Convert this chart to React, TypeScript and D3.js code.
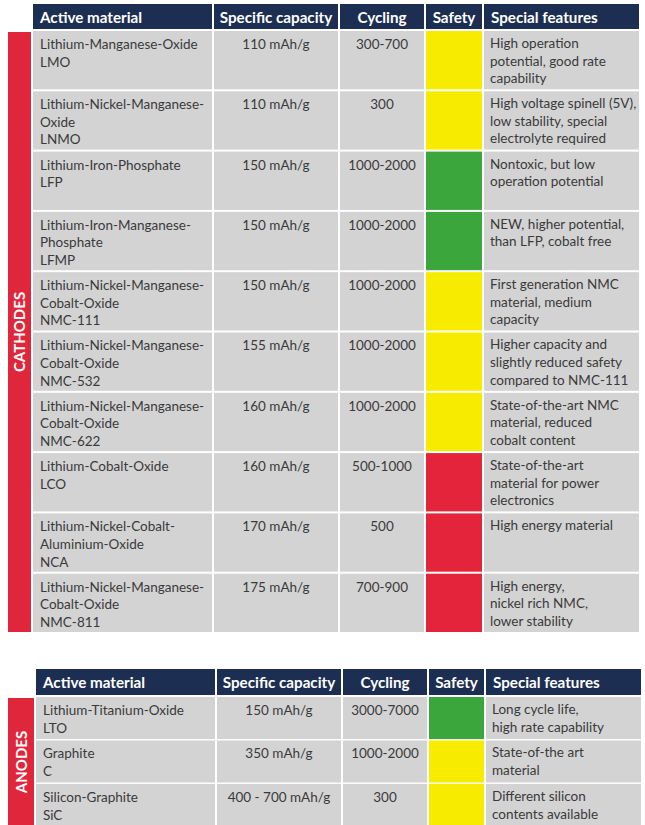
import React from "react";
import * as d3 from "d3";

const headers = ["Active material", "Specific capacity", "Cycling", "Safety", "Special features"];

const cathodeMaterials = [
  ["Lithium-Manganese-Oxide", "LMO"],
  ["Lithium-Nickel-Manganese-", "Oxide", "LNMO"],
  ["Lithium-Iron-Phosphate", "LFP"],
  ["Lithium-Iron-Manganese-", "Phosphate", "LFMP"],
  ["Lithium-Nickel-Manganese-", "Cobalt-Oxide", "NMC-111"],
  ["Lithium-Nickel-Manganese-", "Cobalt-Oxide", "NMC-532"],
  ["Lithium-Nickel-Manganese-", "Cobalt-Oxide", "NMC-622"],
  ["Lithium-Cobalt-Oxide", "LCO"],
  ["Lithium-Nickel-Cobalt-", "Aluminium-Oxide", "NCA"],
  ["Lithium-Nickel-Manganese-", "Cobalt-Oxide", "NMC-811"],
];
const cathodeCapacity = ["110 mAh/g", "110 mAh/g", "150 mAh/g", "150 mAh/g", "150 mAh/g", "155 mAh/g", "160 mAh/g", "160 mAh/g", "170 mAh/g", "175 mAh/g"];
const cathodeCycling = ["300-700", "300", "1000-2000", "1000-2000", "1000-2000", "1000-2000", "1000-2000", "500-1000", "500", "700-900"];
const cathodeSafety = ["medium", "medium", "high", "high", "medium", "medium", "medium", "low", "low", "low"];
const cathodeFeatures = [
  ["High operation", "potential, good rate", "capability"],
  ["High voltage spinell (5V),", "low stability, special", "electrolyte required"],
  ["Nontoxic, but low", "operation potential"],
  ["NEW, higher potential,", "than LFP, cobalt free"],
  ["First generation NMC", "material, medium", "capacity"],
  ["Higher capacity and", "slightly reduced safety", "compared to NMC-111"],
  ["State-of-the-art NMC", "material, reduced", "cobalt content"],
  ["State-of-the-art", "material for power", "electronics"],
  ["High energy material"],
  ["High energy,", "nickel rich NMC,", "lower stability"],
];

const anodeMaterials = [
  ["Lithium-Titanium-Oxide", "LTO"],
  ["Graphite", "C"],
  ["Silicon-Graphite", "SiC"],
];
const anodeCapacity = ["150 mAh/g", "350 mAh/g", "400 - 700 mAh/g"];
const anodeCycling = ["3000-7000", "1000-2000", "300"];
const anodeSafety = ["high", "medium", "medium"];
const anodeFeatures = [
  ["Long cycle life,", "high rate capability"],
  ["State-of-the art", "material"],
  ["Different silicon", "contents available"],
];

const safetyColor: Record<string, string> = { high: "#3aa63b", medium: "#f7ec00", low: "#e3243a" };
const NAVY = "#1c2f52";
const GRAY = "#d3d3d3";
const RED = "#e0263a";
const TEXT = "#3a3a3a";
const FONT = "Lato, 'Open Sans', sans-serif";

type Table = {
  label: string;
  cols: [number, number][];
  headerY: [number, number];
  bodyY: [number, number];
  bar: [number, number, number, number];
  materials: string[][];
  capacity: string[];
  cycling: string[];
  safety: string[];
  features: string[][];
};

function TableView({ t }: { t: Table }) {
  const n = t.materials.length;
  const y = d3.scaleBand<number>().domain(d3.range(n)).range(t.bodyY).paddingInner(0.033).paddingOuter(0.0);
  const lh = 17.6;
  const [hy0, hy1] = t.headerY;
  const colCenter = (c: number) => (t.cols[c][0] + t.cols[c][1]) / 2;
  const [bx, by0, bw, by1] = t.bar;
  return (
    <g>
      <rect x={bx} y={by0} width={bw} height={by1 - by0} fill={RED} />
      <text
        transform={`translate(${bx + bw / 2 + 5.5},${(by0 + by1) / 2}) rotate(-90)`}
        textAnchor="middle"
        fill="#fff"
        fontWeight={700}
        fontSize={15}
        fontFamily={FONT}
      >
        {t.label}
      </text>
      {t.cols.map(([x0, x1], i) => (
        <rect key={"h" + i} x={x0} y={hy0} width={x1 - x0} height={hy1 - hy0} fill={NAVY} />
      ))}
      {headers.map((h, i) => (
        <text
          key={"ht" + i}
          x={i === 0 || i === 4 ? t.cols[i][0] + 7 : colCenter(i)}
          y={hy0 + 19}
          textAnchor={i === 0 || i === 4 ? "start" : "middle"}
          fill="#fff"
          fontWeight={700}
          fontSize={15.2}
          fontFamily={FONT}
        >
          {h}
        </text>
      ))}
      {d3.range(n).map((r) => {
        const top = y(r) as number;
        const h = y.bandwidth();
        return (
          <g key={"r" + r}>
            {t.cols.map(([x0, x1], c) => (
              <rect key={c} x={x0} y={top} width={x1 - x0} height={h} fill={c === 3 ? safetyColor[t.safety[r]] : GRAY} />
            ))}
            <text x={t.cols[0][0] + 7} y={top + 18} fill={TEXT} fontSize={13.5} fontFamily={FONT}>
              {t.materials[r].map((s, k) => (
                <tspan key={k} x={t.cols[0][0] + 7} dy={k === 0 ? 0 : lh}>{s}</tspan>
              ))}
            </text>
            <text x={colCenter(1)} y={top + 18} textAnchor="middle" fill={TEXT} fontSize={13.5} fontFamily={FONT}>
              {t.capacity[r]}
            </text>
            <text x={colCenter(2)} y={top + 18} textAnchor="middle" fill={TEXT} fontSize={13.5} fontFamily={FONT}>
              {t.cycling[r]}
            </text>
            <text x={t.cols[4][0] + 6} y={top + 17} fill={TEXT} fontSize={13.5} fontFamily={FONT}>
              {t.features[r].map((s, k) => (
                <tspan key={k} x={t.cols[4][0] + 6} dy={k === 0 ? 0 : lh}>{s}</tspan>
              ))}
            </text>
          </g>
        );
      })}
    </g>
  );
}

export default function App() {
  const cathodes: Table = {
    label: "CATHODES",
    cols: [[33, 212], [214, 338], [340, 424], [426, 482], [484, 639]],
    headerY: [4, 29],
    bodyY: [31, 632],
    bar: [8, 32, 23, 632],
    materials: cathodeMaterials,
    capacity: cathodeCapacity,
    cycling: cathodeCycling,
    safety: cathodeSafety,
    features: cathodeFeatures,
  };
  const anodes: Table = {
    label: "ANODES",
    cols: [[36, 215], [217, 341], [343, 427], [429, 484], [486, 641]],
    headerY: [669, 695],
    bodyY: [697, 826],
    bar: [8, 698, 26, 826],
    materials: anodeMaterials,
    capacity: anodeCapacity,
    cycling: anodeCycling,
    safety: anodeSafety,
    features: anodeFeatures,
  };
  return (
    <div style={{ position: "absolute", left: 0, top: 0 }}>
      <svg width={645} height={825} style={{ display: "block", background: "#fff" }}>
        <TableView t={cathodes} />
        <TableView t={anodes} />
      </svg>
    </div>
  );
}
